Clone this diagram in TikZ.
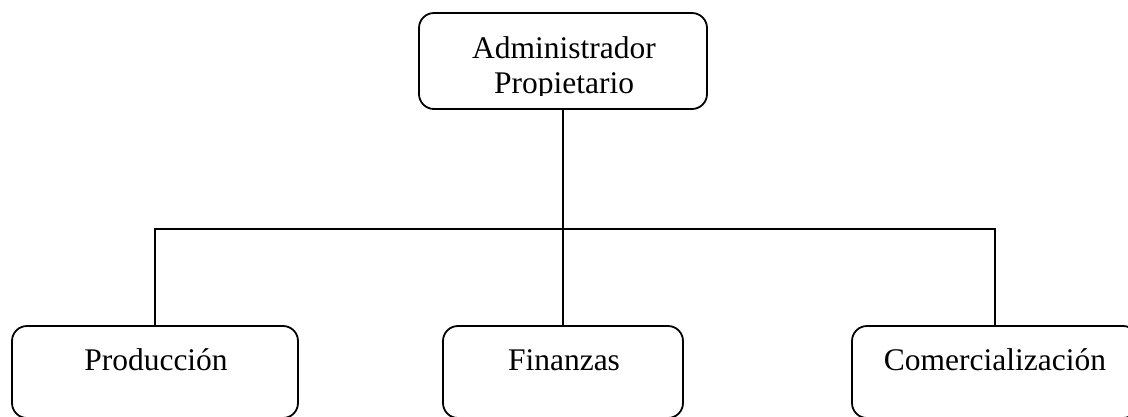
\documentclass[tikz,border=0pt]{standalone}
\usepackage{fontspec}
\setmainfont{Liberation Serif}
\begin{document}
\begin{tikzpicture}[x=1pt,y=-1pt,
  orgbox/.style={draw=black,line width=1.8pt,rounded corners=15pt,inner sep=0pt},
  lbl/.style={anchor=base,inner sep=0pt,font=\fontsize{31.5}{36}\selectfont},
  conn/.style={draw=black,line width=1.8pt}]
\useasboundingbox (0,0) rectangle (1128,416);
\clip (0,0) rectangle (1128,416);
\fill[white] (0,0) rectangle (1128,416);
% boxes
\node[orgbox,minimum width=288pt,minimum height=96pt] (top) at (563,61) {};
\node[orgbox,minimum width=286pt,minimum height=92pt] (prod) at (155,372) {};
\node[orgbox,minimum width=240pt,minimum height=92pt] (fin) at (563,372) {};
\node[orgbox,minimum width=286pt,minimum height=92pt] (comm) at (995,372) {};
% labels
\begin{scope}
\clip (419,13) rectangle (707,95);
\node[lbl] (t1) at (564,58) {Administrador};
\node[lbl] (t2) at (564,93) {Propietario};
\end{scope}
\node[lbl] (l1) at (156,370) {Producción};
\node[lbl] (l2) at (564,370) {Finanzas};
\node[lbl] (l3) at (995,370) {Comercialización};
% connectors
\coordinate (bar) at (0,229);
\draw[conn] (top.south) -- (fin.north);
\draw[conn] (prod.north) -- (prod.north |- bar) -- (comm.north |- bar) -- (comm.north);
\end{tikzpicture}
\end{document}
